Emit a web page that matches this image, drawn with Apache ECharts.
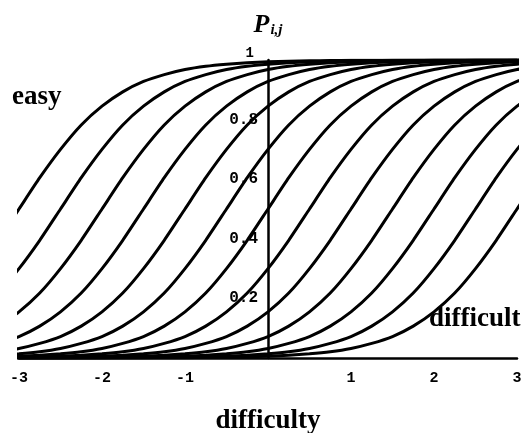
<!DOCTYPE html>
<html>
<head>
<meta charset="utf-8">
<script src="https://cdn.jsdelivr.net/npm/echarts@6/dist/echarts.min.js"></script>
<style>
html,body{margin:0;padding:0;background:#fff;}
#chart{width:525px;height:433px;}
</style>
</head>
<body>
<div id="chart"></div>
<script>
// where each curve passes P = 0.5
var centers = [-3, -2.5, -2, -1.5, -1, -0.5, 0, 0.5, 1, 1.5, 2, 2.5, 3];
// shape of one curve: offset from its centre and the value there
var profileDx = [-6, -5, -4, -3.75, -3.5, -3.25, -3, -2.75, -2.5, -2.25, -2, -1.75, -1.5, -1.25, -1, -0.75, -0.5, -0.25, 0,
	0.25, 0.5, 0.75, 1, 1.25, 1.5, 1.75, 2, 2.25, 2.5, 2.75, 3, 3.25, 3.5, 3.75, 4, 5, 6];
var profileP = [0, 0.0002, 0.001, 0.0017, 0.0026, 0.004, 0.006, 0.0092, 0.014, 0.021, 0.032, 0.049, 0.072, 0.107, 0.155, 0.218, 0.30, 0.395, 0.5,
	0.605, 0.70, 0.782, 0.845, 0.893, 0.928, 0.951, 0.968, 0.979, 0.986, 0.991, 0.994, 0.996, 0.9974, 0.9983, 0.999, 0.9998, 1];
var xTicks = [-3, -2, -1, 1, 2, 3];
var yTicks = [0.2, 0.4, 0.6, 0.8, 1];

var myChart = echarts.init(document.getElementById('chart'));

var series = [];
for (var c = 0; c < centers.length; c++) {
	var pts = [];
	for (var k = 0; k < profileDx.length; k++) {
		pts.push([centers[c] + profileDx[k], profileP[k]]);
	}
	series.push({
		type: 'line',
		data: pts,
		smooth: 0.2,
		showSymbol: false,
		clip: true,
		lineStyle: {color: '#000', width: 3},
		silent: true
	});
}

var option = {
	animation: false,
	backgroundColor: '#fff',
	grid: {left: 19, right: 8, top: 60, bottom: 75, outerBoundsMode: 'none', containLabel: false},
	xAxis: {
		type: 'value',
		min: -3, max: 3, interval: 1,
		splitLine: {show: false},
		axisLine: {lineStyle: {color: '#000', width: 2.5}},
		axisTick: {show: false},
		axisLabel: {
			color: '#000', fontFamily: 'Liberation Mono', fontSize: 15, fontWeight: 'bold', margin: 13,
			formatter: function (v) { return xTicks.indexOf(v) >= 0 ? String(v) : ''; }
		},
		name: 'difficulty',
		nameLocation: 'middle',
		nameGap: 50,
		nameTextStyle: {color: '#000', fontFamily: 'Liberation Serif', fontSize: 27, fontWeight: 'bold'}
	},
	yAxis: {
		type: 'value',
		min: 0, max: 1, interval: 0.2,
		offset: -249,
		splitLine: {show: false},
		axisLine: {onZero: false, lineStyle: {color: '#000', width: 2.5}},
		axisTick: {show: false},
		axisLabel: {
			color: '#000', fontFamily: 'Liberation Mono', fontSize: 16, fontWeight: 'bold', margin: 10,
			formatter: function (v) {
				var r = Math.round(v * 10) / 10;
				if (r === 1) return '{t|1}';
				return yTicks.indexOf(r) >= 0 ? String(r) : '';
			},
			rich: {t: {fontFamily: 'Liberation Mono', fontSize: 14, fontWeight: 'bold', color: '#000', padding: [0, 4, 14, 0]}}
		},
		name: '{p|P}{s|i,j}',
		nameGap: 22,
		nameTextStyle: {
			rich: {
				p: {fontFamily: 'Liberation Serif', fontStyle: 'italic', fontWeight: 'bold', fontSize: 26, color: '#000'},
				s: {fontFamily: 'Liberation Serif', fontStyle: 'italic', fontWeight: 'bold', fontSize: 15, color: '#000', verticalAlign: 'bottom', padding: [8, 0, 0, 1]}
			}
		}
	},
	graphic: [
		{type: 'text', left: 12, top: 84, style: {text: 'easy', fill: '#000', font: 'bold 27px "Liberation Serif"'}},
		{type: 'text', left: 429, top: 306, style: {text: 'difficult', fill: '#000', font: 'bold 27px "Liberation Serif"'}}
	],
	series: series
};
myChart.setOption(option);
</script>
</body>
</html>
